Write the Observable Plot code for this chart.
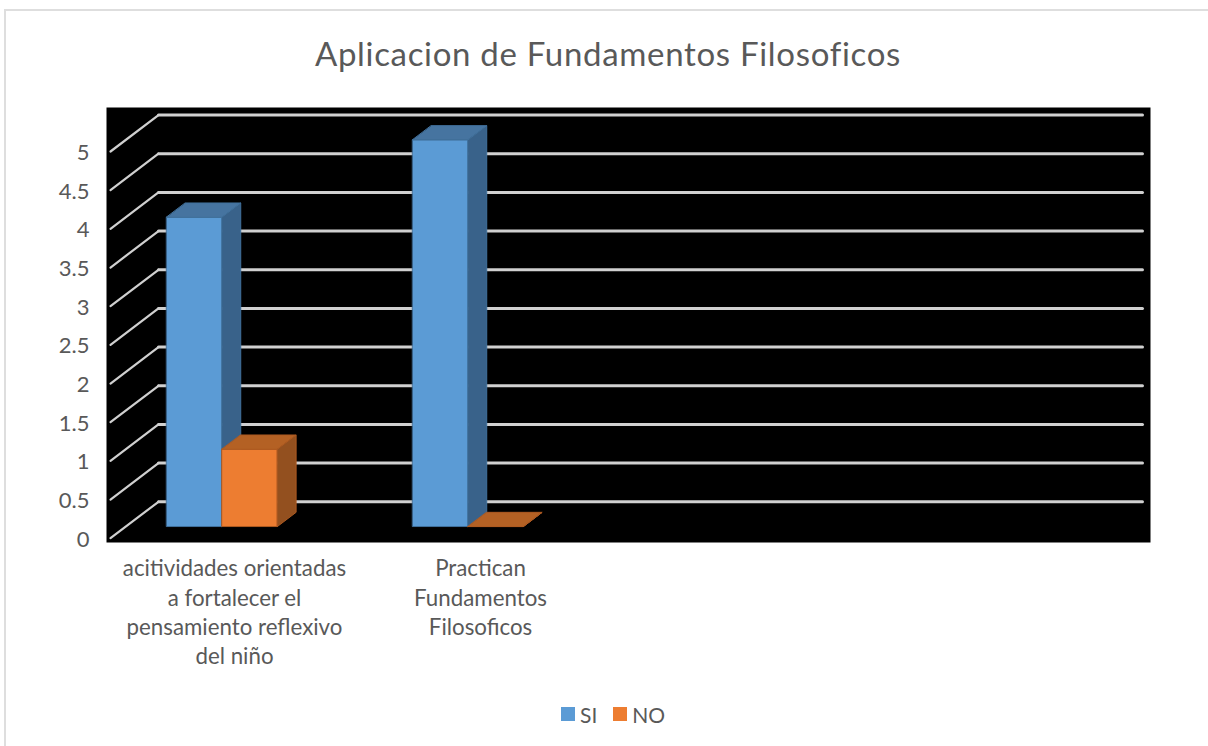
<!DOCTYPE html>
<html><head><meta charset="utf-8">
<script src="https://cdn.jsdelivr.net/npm/d3@7"></script>
<script src="https://cdn.jsdelivr.net/npm/@observablehq/plot@0.6"></script>
<style>
html,body{margin:0;padding:0;background:#fff;width:1208px;height:746px;overflow:hidden;font-family:Lato,sans-serif;color:#595959}
#edge{position:absolute;left:4px;top:9px;width:1300px;height:900px;border:2px solid #dedede}
#wrap{position:absolute;left:0;top:0;width:1208px}
#title{height:107px;box-sizing:border-box;padding:30px 0 0 8px;text-align:center;font-size:33px;line-height:46px;letter-spacing:.68px}
svg{display:block}
#legend{display:flex;justify-content:flex-start;align-items:center;height:48px;padding-left:561px;font-size:21px;box-sizing:border-box}
#legend i{display:inline-block;width:14px;height:14px;margin-right:5px}
#legend span{margin-right:16px}
</style></head><body>
<div id="edge"></div>
<div id="wrap">
<div id="title">Aplicacion de Fundamentos Filosoficos</div>
<div id="chart"></div>
<div id="legend"></div>
</div>
<script>
const categoryLabels = ["acitividades orientadas\na fortalecer el\npensamiento reflexivo\ndel niño", "Practican\nFundamentos\nFilosoficos"];
const categoryCount = 4;
const seriesNames = ["SI", "NO"];
const siValues = [4, 5];
const noValues = [1, 0];
const yTicks = [0, 0.5, 1, 1.5, 2, 2.5, 3, 3.5, 4, 4.5, 5];

const colors = {
  SI: {front: "#5b9bd5", top: "#4674a0", side: "#39628a", edge: "#41719c"},
  NO: {front: "#ed7d31", top: "#b46124", side: "#93501f", edge: "#ae5a21"}
};

// oblique projection: depth d in 0..1 shifts a point right and up, in scale units
const depthX = 0.195, depthY = 0.471;
const P = (x, v, d) => ({x: x + d * depthX, y: v + d * depthY});
const barStart = 0.166, barWidth = 0.225, depthFront = 0.32, depthBack = 0.71;

function barFaces(cat, seriesIdx, value, c) {
  const x0 = cat + barStart + seriesIdx * barWidth, x1 = x0 + barWidth;
  const f = depthFront, b = depthBack;
  return [
    {pts: [P(x0,0,f), P(x1,0,f), P(x1,value,f), P(x0,value,f)], fill: c.front},
    {pts: [P(x0,value,f), P(x1,value,f), P(x1,value,b), P(x0,value,b)], fill: c.top},
    {pts: [P(x1,0,f), P(x1,0,b), P(x1,value,b), P(x1,value,f)], fill: c.side}
  ].map(o => ({...o, stroke: c.edge}));
}

const faces = [];
categoryLabels.forEach((_, i) => {
  faces.push(...barFaces(i, 0, siValues[i], colors.SI));
  faces.push(...barFaces(i, 1, noValues[i], colors.NO));
});

const diagonals = yTicks.map(v => [P(0, v, 0), P(0, v, 1)]);
const backLines = yTicks.map(v => [P(0, v, 1), P(categoryCount, v, 1)]);

const plot = Plot.plot({
  width: 1208, height: 583,
  marginLeft: 106, marginRight: 58, marginTop: 0, marginBottom: 148,
  x: {type: "linear", domain: [0, categoryCount], range: [110, 1094], axis: null},
  y: {type: "linear", domain: [0, 5], range: [430.7, 44], axis: null},
  style: {background: "transparent", color: "#595959"},
  marks: [
    Plot.frame({fill: "#000", stroke: "none"}),
    ...diagonals.map(g => Plot.line(g, {x: "x", y: "y", stroke: "#d0d0d0", strokeWidth: 2.2, curve: "linear"})),
    ...backLines.map(g => Plot.line(g, {x: "x", y: "y", stroke: "#d0d0d0", strokeWidth: 3, curve: "linear"})),
    ...faces.map(f => Plot.line(f.pts, {x: "x", y: "y", curve: "linear-closed", fill: f.fill, stroke: f.stroke, strokeWidth: 1})),
    Plot.axisY(yTicks, {anchor: "left", tickSize: 0, tickPadding: 17, fontSize: 22, label: null, dy: 1.5, tickFormat: d => String(d)}),
    Plot.text(categoryLabels, {x: (d, i) => i + 0.5, frameAnchor: "bottom", lineAnchor: "top", dy: 13, dx: 1, fontSize: 22.3, lineHeight: 1.314, textAnchor: "middle", fill: "#595959"})
  ]
});
plot.style.fontFamily = "Lato,sans-serif";
document.getElementById("chart").appendChild(plot);

const legend = document.getElementById("legend");
seriesNames.forEach(n => {
  const i = document.createElement("i"); i.style.background = colors[n].front;
  const s = document.createElement("span"); s.textContent = n;
  legend.append(i, s);
});
</script>
</body></html>
